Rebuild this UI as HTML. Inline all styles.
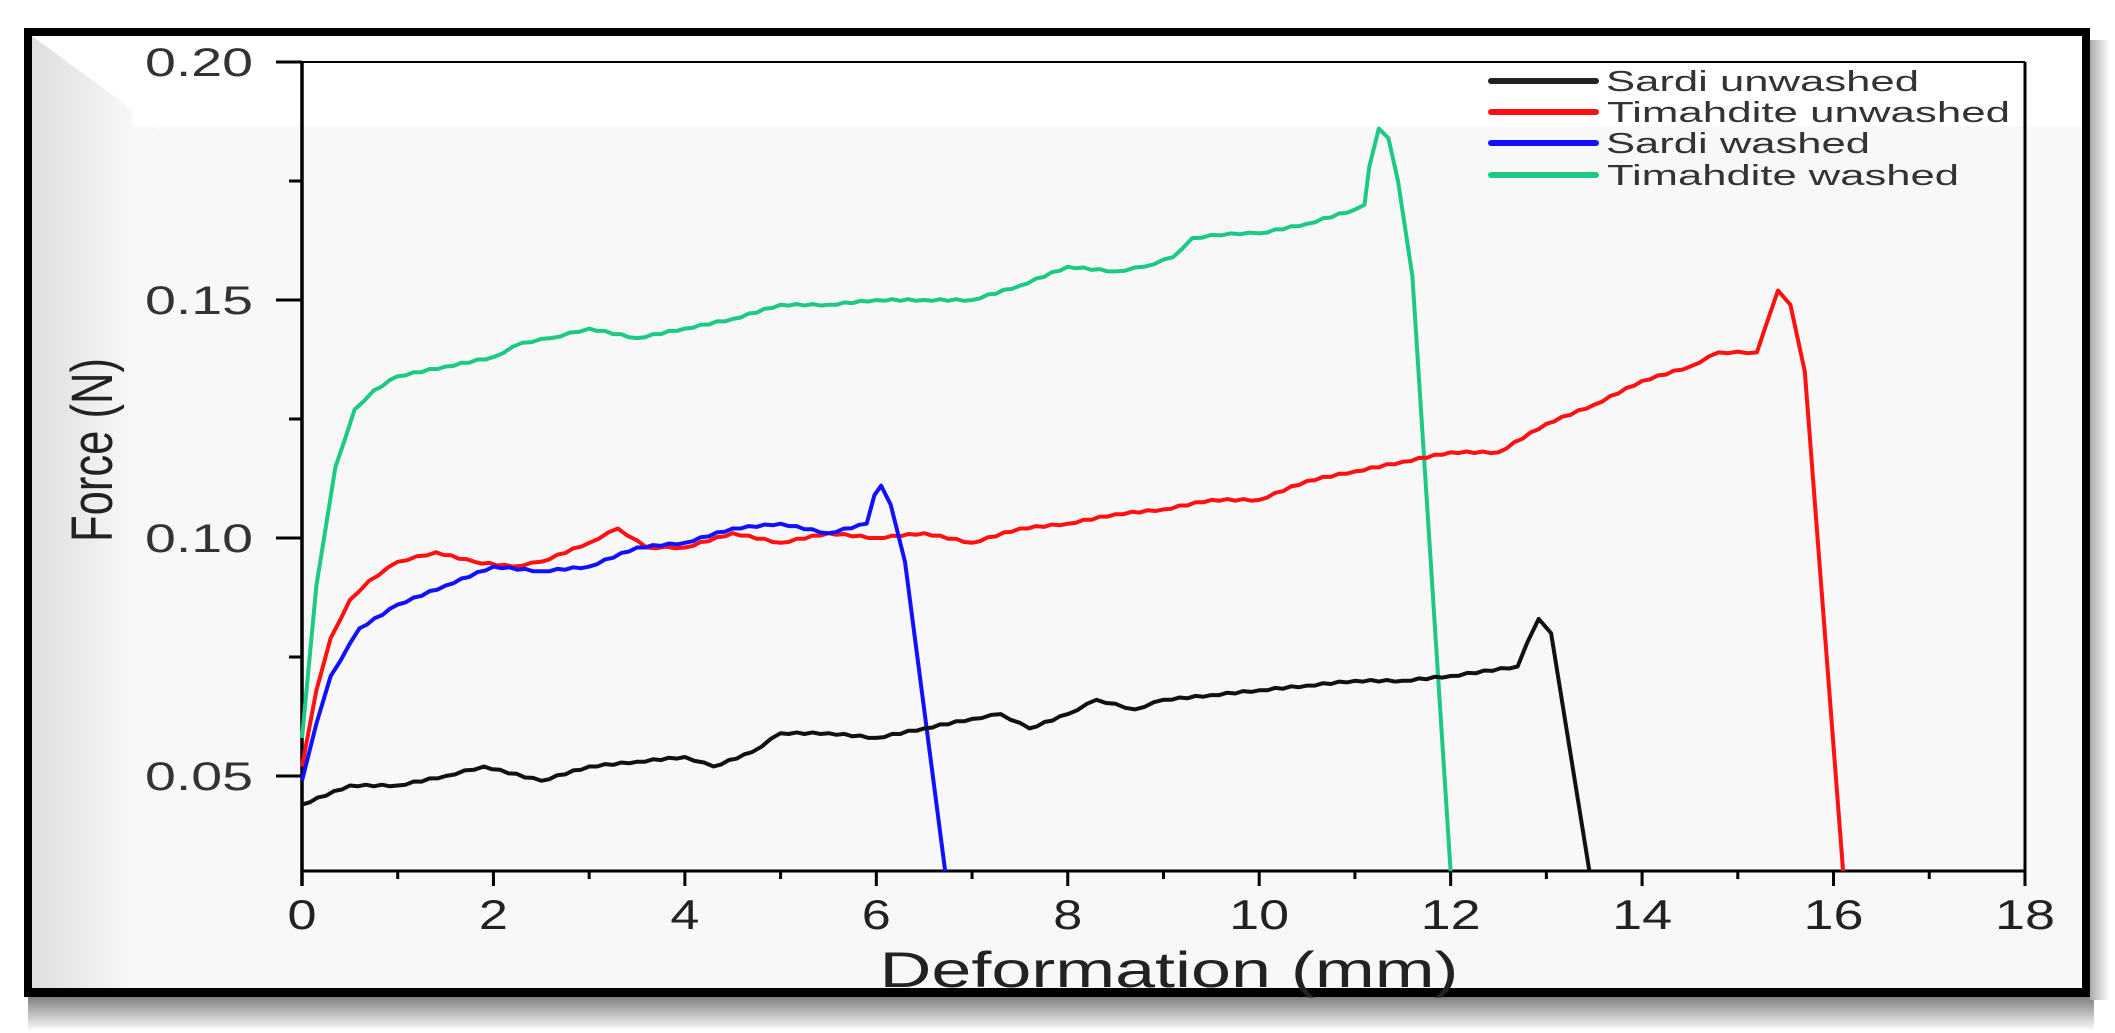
<!DOCTYPE html>
<html><head><meta charset="utf-8"><style>
html,body{margin:0;padding:0;background:#fff;}
svg{display:block;font-family:"Liberation Sans",sans-serif;}
</style></head><body>
<svg id="s" width="2115" height="1033" viewBox="0 0 2115 1033" xmlns="http://www.w3.org/2000/svg">
<defs>
<linearGradient id="sh" x1="0" y1="0" x2="0" y2="1"><stop offset="0" stop-color="#777"/><stop offset="1" stop-color="#fff"/></linearGradient>
<linearGradient id="shr" x1="0" y1="0" x2="1" y2="0"><stop offset="0" stop-color="#aaa"/><stop offset="1" stop-color="#fff"/></linearGradient>
<linearGradient id="lg" x1="0" y1="0" x2="1" y2="0"><stop offset="0" stop-color="#dedede"/><stop offset="1" stop-color="#f8f8f8"/></linearGradient>
</defs>
<rect x="28" y="995" width="2066" height="36" fill="url(#sh)"/>
<rect x="2090" y="40" width="20" height="960" fill="url(#shr)"/>
<rect x="24" y="28" width="2066" height="969" fill="#000"/>
<rect x="32" y="36" width="2050" height="952" fill="#f8f8f8"/>
<rect x="32" y="36" width="2050" height="90" fill="#fff"/>
<rect x="32" y="36" width="100" height="952" fill="url(#lg)"/>
<polygon points="32,36 160,36 160,130" fill="#fff"/>
<g id="axes" stroke="#000" fill="none"></g>
<g id="data" fill="none" stroke-width="4" stroke-linejoin="round"></g>
<g fill="#333" font-size="40">
<text x="253" y="76" text-anchor="end" textLength="108" lengthAdjust="spacingAndGlyphs">0.20</text>
<text x="253" y="314" text-anchor="end" textLength="108" lengthAdjust="spacingAndGlyphs">0.15</text>
<text x="253" y="552" text-anchor="end" textLength="108" lengthAdjust="spacingAndGlyphs">0.10</text>
<text x="253" y="790" text-anchor="end" textLength="108" lengthAdjust="spacingAndGlyphs">0.05</text>
</g>
<g id="xl" fill="#222" font-size="42"></g>
<text x="1169" y="987" font-size="50" fill="#222" text-anchor="middle" textLength="579" lengthAdjust="spacingAndGlyphs">Deformation (mm)</text>
<text transform="translate(112,450) rotate(-90)" font-size="58" fill="#222" text-anchor="middle" textLength="184" lengthAdjust="spacingAndGlyphs">Force (N)</text>
<g stroke-width="6" stroke-linecap="round">
<line x1="1491" y1="81" x2="1596" y2="81" stroke="#222"/>
<line x1="1491" y1="112" x2="1596" y2="112" stroke="#f11"/>
<line x1="1491" y1="143" x2="1596" y2="143" stroke="#11f"/>
<line x1="1491" y1="175" x2="1596" y2="175" stroke="#1dc985"/>
</g>
<g font-size="29" fill="#333">
<text x="1606" y="91" textLength="313" lengthAdjust="spacingAndGlyphs">Sardi unwashed</text>
<text x="1607" y="122" textLength="403" lengthAdjust="spacingAndGlyphs">Timahdite unwashed</text>
<text x="1606" y="153" textLength="264" lengthAdjust="spacingAndGlyphs">Sardi washed</text>
<text x="1607" y="185" textLength="352" lengthAdjust="spacingAndGlyphs">Timahdite washed</text>
</g>
</svg>
<script>
(function(){
var NS="http://www.w3.org/2000/svg";
function X(d){return 302+d*95.72;}
function Y(v){return 62+(0.2-v)*4760;}
function el(p,t,a){var e=document.createElementNS(NS,t);for(var k in a)e.setAttribute(k,a[k]);p.appendChild(e);return e;}
var ax=document.getElementById('axes');
el(ax,'line',{x1:277,y1:62,x2:2025,y2:62,'stroke-width':2});
el(ax,'line',{x1:2025,y1:62,x2:2025,y2:886,'stroke-width':3});
el(ax,'line',{x1:302,y1:62,x2:302,y2:886,'stroke-width':3.5});
el(ax,'line',{x1:302,y1:871,x2:2025,y2:871,'stroke-width':3});
for(var i=0;i<=6;i++){var v=0.2-i*0.025,y=Y(v);if(y>870)break;
 el(ax,'line',{x1:(i%2==0?276:289),y1:y,x2:302,y2:y,'stroke-width':3});}
var xl=document.getElementById('xl');
for(var d=0;d<=18;d++){var x=X(d);
 el(ax,'line',{x1:x,y1:871,x2:x,y2:(d%2==0?886:879),'stroke-width':3});
 if(d%2==0){var t=el(xl,'text',{x:x,y:929,'text-anchor':'middle'});t.textContent=d;t.setAttribute('textLength',d<10?29:60);t.setAttribute('lengthAdjust','spacingAndGlyphs');}}
var S=[
["#1dc985",[[0,0.058],[0.15,0.09],[0.35,0.115],[0.55,0.127],[0.75,0.131],[1,0.134],[1.5,0.136],[2,0.138],[2.3,0.141],[2.6,0.142],[3,0.144],[3.5,0.142],[4,0.144],[4.5,0.146],[5,0.149],[5.5,0.149],[6,0.150],[6.5,0.150],[7,0.150],[7.5,0.153],[8,0.157],[8.5,0.156],[8.8,0.157],[9.1,0.159],[9.3,0.163],[9.7,0.164],[10,0.164],[10.5,0.166],[11,0.169],[11.1,0.170],[11.15,0.178],[11.25,0.186],[11.35,0.184],[11.45,0.175],[11.6,0.155],[12,0.030]]],
["#f11",[[0,0.052],[0.15,0.068],[0.3,0.079],[0.5,0.087],[0.7,0.091],[1,0.095],[1.4,0.097],[1.8,0.095],[2.2,0.094],[2.5,0.095],[3,0.099],[3.3,0.102],[3.6,0.098],[4,0.098],[4.5,0.101],[5,0.099],[5.5,0.101],[6,0.100],[6.5,0.101],[7,0.099],[7.5,0.102],[8,0.103],[8.5,0.105],[9,0.106],[9.5,0.108],[10,0.108],[10.5,0.112],[11,0.114],[11.5,0.116],[12,0.118],[12.5,0.118],[13,0.124],[13.5,0.128],[14,0.133],[14.5,0.136],[14.8,0.139],[15.2,0.139],[15.3,0.145],[15.42,0.152],[15.55,0.149],[15.7,0.135],[16.1,0.030]]],
["#11f",[[0,0.049],[0.15,0.061],[0.3,0.071],[0.6,0.081],[1,0.086],[1.5,0.090],[2,0.094],[2.5,0.093],[3,0.094],[3.5,0.098],[4,0.099],[4.5,0.102],[5,0.103],[5.5,0.101],[5.9,0.103],[5.98,0.109],[6.05,0.111],[6.15,0.107],[6.3,0.095],[6.72,0.030]]],
["#111",[[0,0.044],[0.5,0.048],[1,0.048],[1.5,0.050],[1.9,0.052],[2.5,0.049],[3,0.052],[3.5,0.053],[4,0.054],[4.3,0.052],[4.7,0.055],[5,0.059],[5.5,0.059],[6,0.058],[6.5,0.060],[7,0.062],[7.3,0.063],[7.6,0.060],[8,0.063],[8.3,0.066],[8.7,0.064],[9,0.066],[9.5,0.067],[10,0.068],[10.5,0.069],[11,0.070],[11.5,0.070],[12,0.071],[12.7,0.073],[12.8,0.078],[12.92,0.083],[13.05,0.080],[13.45,0.030]]]];
var g=document.getElementById('data');
S.forEach(function(s){var p=s[1],d="";
 for(var i=0;i<p.length;i++){
  var a=p[i];d+=(i?"L":"M")+X(a[0]).toFixed(1)+","+Y(a[1]).toFixed(1);
  if(i<p.length-1){var b=p[i+1],n=Math.floor((b[0]-a[0])/0.08);
   if(Math.abs(b[1]-a[1])<0.02) for(var k=1;k<n;k++){var f=k/n;d+="L"+X(a[0]+f*(b[0]-a[0])).toFixed(1)+","+(Y(a[1]+f*(b[1]-a[1]))+(k%2?0.8:-0.8)).toFixed(1);}}
 }
 el(g,'path',{d:d,stroke:s[0]});});
})();
</script>
</body></html>
